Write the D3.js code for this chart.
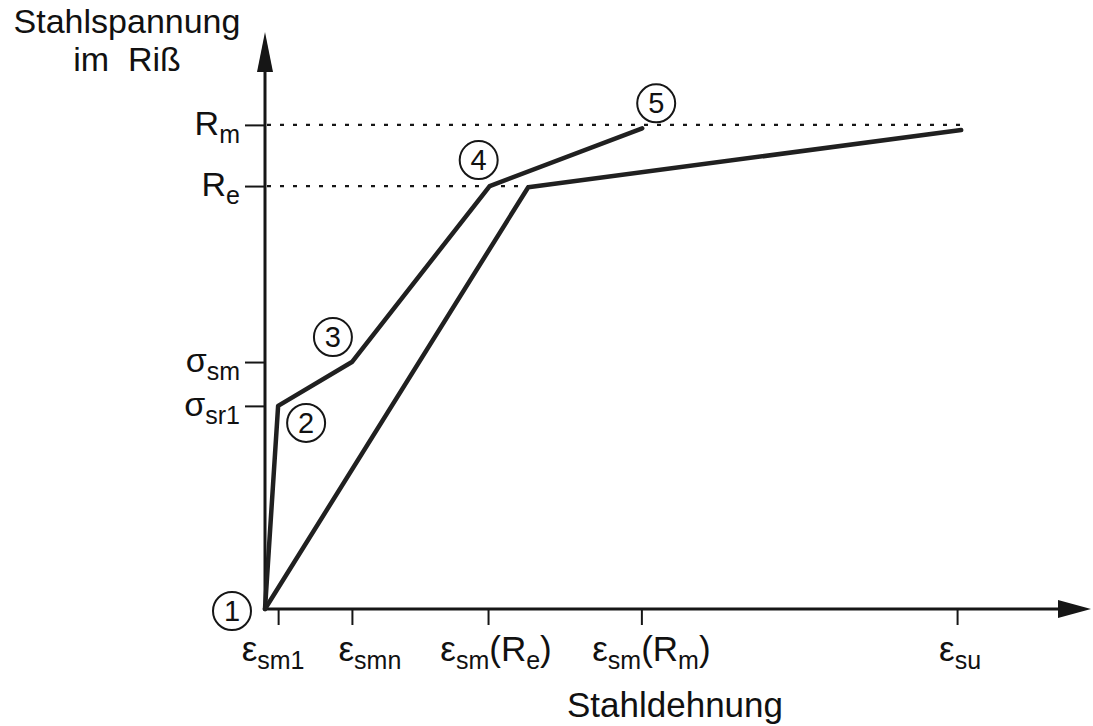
<!DOCTYPE html>
<html>
<head>
<meta charset="utf-8">
<script src="https://cdn.jsdelivr.net/npm/d3@7"></script>
<style>
  html, body { margin: 0; padding: 0; background: #fff; }
  svg text { font-family: "Liberation Sans", Arial, Helvetica, sans-serif; fill: #111; }
</style>
</head>
<body>
<svg id="chart" width="1093" height="726"></svg>
<script>
// ---- data (abstract units) ----
const xTickValues = [1.6, 10.6, 27.2, 45.9, 84.4];
const xTickLabels = ["ε_sm1", "ε_smn", "ε_sm(R_e)", "ε_sm(R_m)", "ε_su"];
const yTickValues = [35.2, 42.8, 73.3, 83.9];
const yTickLabels = ["σ_sr1", "σ_sm", "R_e", "R_m"];

const upperStrain = [0, 1.6, 10.6, 27.4, 46.0];
const upperStress = [0, 35.2, 42.8, 73.3, 83.3];
const lowerStrain = [0, 32.1, 84.9];
const lowerStress = [0, 73.1, 83.0];

const stageNames = ["1", "2", "3", "4", "5"];   // points on upper curve, in order

const xTitle = "Stahldehnung";
const yTitle = ["Stahlspannung", "im  Riß"];

// ---- layout (pixel offsets, not data) ----
const stageOffsets = [[-33, 2], [28, 17], [-19, -25], [-11, -26], [14, -25]];
const xLabelNudge = [-5, 18, 8, 10, 3];

const svg = d3.select("#chart");
const ox = 265, oy = 609;
const x = d3.scaleLinear().domain([0, 100]).range([ox, ox + 820]);
const y = d3.scaleLinear().domain([0, 100]).range([oy, oy - 577]);
const ink = "#161616";

// axes lines with arrowheads
svg.append("line").attr("x1", ox).attr("y1", oy).attr("x2", ox).attr("y2", 60)
  .attr("stroke", ink).attr("stroke-width", 3);
svg.append("path").attr("d", `M${ox},32 L${ox - 8},72 L${ox + 8},72 Z`).attr("fill", ink);
svg.append("line").attr("x1", ox).attr("y1", oy).attr("x2", 1065).attr("y2", oy)
  .attr("stroke", ink).attr("stroke-width", 3);
svg.append("path").attr("d", `M1091,${oy} L1058,${oy - 9} L1058,${oy + 9} Z`).attr("fill", ink);

// ticks via d3 axes
const xAxis = d3.axisBottom(x).tickValues(xTickValues).tickSize(16).tickFormat("");
const gx = svg.append("g").attr("transform", `translate(0,${oy})`).call(xAxis);
gx.select(".domain").remove();
gx.selectAll(".tick line").attr("stroke", ink).attr("stroke-width", 2);

const yAxis = d3.axisLeft(y).tickValues(yTickValues).tickSize(20).tickFormat("");
const gy = svg.append("g").attr("transform", `translate(${ox},0)`).call(yAxis);
gy.select(".domain").remove();
gy.selectAll(".tick line").attr("stroke", ink).attr("stroke-width", 2);

// rich label helper: "_" starts a subscript run of [a-z0-9]
function richText(sel, label, mainSize, subSize, subShift) {
  const parts = label.split(/_([a-z0-9]+)/);
  parts.forEach((p, i) => {
    if (!p) return;
    const isSub = i % 2 === 1;
    sel.append("tspan")
      .attr("font-size", isSub ? subSize : mainSize)
      .attr("baseline-shift", isSub ? -subShift : 0)
      .text(p);
  });
}

// x tick labels
xTickLabels.forEach((lab, i) => {
  const t = svg.append("text")
    .attr("x", x(xTickValues[i]) + xLabelNudge[i]).attr("y", oy + 52)
    .attr("text-anchor", "middle");
  richText(t, lab, 35, 25, 8);
});

// y tick labels
yTickLabels.forEach((lab, i) => {
  const t = svg.append("text")
    .attr("x", ox - 25).attr("y", y(yTickValues[i]) + 10)
    .attr("text-anchor", "end");
  richText(t, lab, 34, 25, 8);
});

// dotted reference lines
const dotted = [
  { v: 83.9, to: lowerStrain[2] },
  { v: 73.3, to: lowerStrain[1] }
];
svg.selectAll(".ref").data(dotted).join("line")
  .attr("x1", ox + 2).attr("x2", d => x(d.to))
  .attr("y1", d => y(d.v)).attr("y2", d => y(d.v))
  .attr("stroke", ink).attr("stroke-width", 2.2)
  .attr("stroke-dasharray", "4,9");

// curves
const line = d3.line().x(d => x(d[0])).y(d => y(d[1]));
const upper = upperStrain.map((v, i) => [v, upperStress[i]]);
const lower = lowerStrain.map((v, i) => [v, lowerStress[i]]);
[upper, lower].forEach(pts => {
  svg.append("path").attr("d", line(pts))
    .attr("fill", "none").attr("stroke", "#202020")
    .attr("stroke-width", 4.5).attr("stroke-linejoin", "round").attr("stroke-linecap", "round");
});

// stage markers
stageNames.forEach((n, i) => {
  const cx = x(upper[i][0]) + stageOffsets[i][0];
  const cy = y(upper[i][1]) + stageOffsets[i][1];
  svg.append("circle").attr("cx", cx).attr("cy", cy).attr("r", 19)
    .attr("fill", "none").attr("stroke", ink).attr("stroke-width", 2);
  svg.append("text").attr("x", cx).attr("y", cy + 10)
    .attr("text-anchor", "middle").attr("font-size", 29).text(n);
});

// axis titles
svg.append("text").attr("x", 675).attr("y", 717).attr("text-anchor", "middle")
  .attr("font-size", 35).text(xTitle);
yTitle.forEach((s, i) => {
  svg.append("text").attr("x", 127).attr("y", 33 + i * 38).attr("text-anchor", "middle")
    .attr("font-size", 34).attr("xml:space", "preserve").style("white-space", "pre").text(s);
});
</script>
</body>
</html>
